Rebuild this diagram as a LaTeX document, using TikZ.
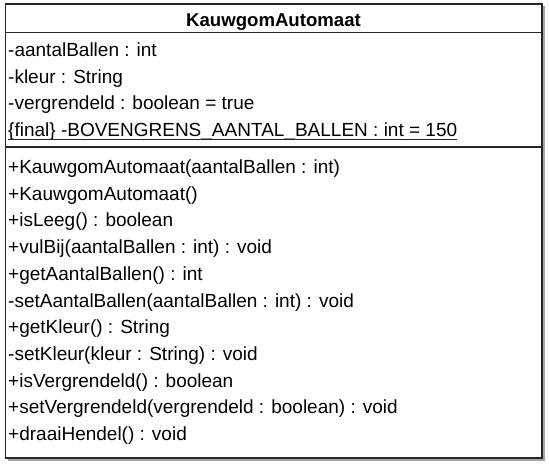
\documentclass[tikz,border=0pt]{standalone}
\usepackage{fontspec}
\setmainfont{Liberation Sans}
\begin{document}
\begin{tikzpicture}[x=1pt,y=-1pt,
  boxline/.style={draw=black!85, line width=1.6pt},
  shadowline/.style={draw=black!35, line width=1.6pt},
  member/.style={anchor=base west, inner sep=0pt, font=\fontsize{19}{22}\selectfont},
  title/.style={anchor=base, inner sep=0pt, font=\fontsize{18.6}{22}\selectfont\bfseries}]
\useasboundingbox (0,0) rectangle (549,468);
\fill[white] (0,0) rectangle (549,468);
% shadow
\draw[shadowline] (544,6) -- (544,460) -- (7.5,460);
% class box
\draw[boxline] (5.5,4) rectangle (542,458);
\draw[boxline] (5.5,32.5) -- (542,32.5);
\draw[boxline] (5.5,147) -- (542,147);
% title
\node[title] (cls) at (273.5,27) {KauwgomAutomaat};
% attributes
\node[member] (a1) at (8,56.7) {-aantalBallen : int};
\node[member] (a2) at (8,83.3) {-kleur : String};
\node[member] (a3) at (8,109.9) {-vergrendeld : boolean = true};
\node[member] (a4) at (8,136.5) {\{final\} -BOVENGRENS\_AANTAL\_BALLEN : int = 150};
\draw[black!85, line width=1pt] ([yshift=-3pt]a4.base west) -- ([yshift=-3pt]a4.base east);
% methods
\node[member] (m1) at (8,173.5) {+KauwgomAutomaat(aantalBallen : int)};
\node[member] (m2) at (8,200.2) {+KauwgomAutomaat()};
\node[member] (m3) at (8,226.9) {+isLeeg() : boolean};
\node[member] (m4) at (8,253.6) {+vulBij(aantalBallen : int) : void};
\node[member] (m5) at (8,280.3) {+getAantalBallen() : int};
\node[member] (m6) at (8,307.0) {-setAantalBallen(aantalBallen : int) : void};
\node[member] (m7) at (8,333.7) {+getKleur() : String};
\node[member] (m8) at (8,360.4) {-setKleur(kleur : String) : void};
\node[member] (m9) at (8,387.1) {+isVergrendeld() : boolean};
\node[member] (m10) at (8,413.8) {+setVergrendeld(vergrendeld : boolean) : void};
\node[member] (m11) at (8,440.5) {+draaiHendel() : void};
\end{tikzpicture}
\end{document}
